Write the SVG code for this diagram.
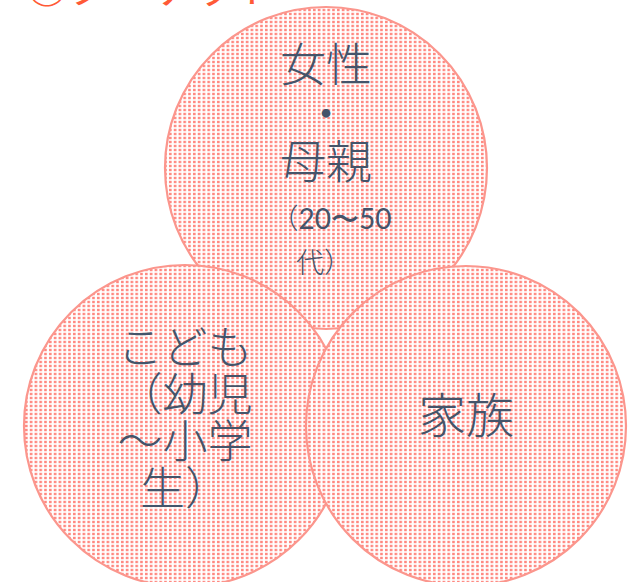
<svg xmlns="http://www.w3.org/2000/svg" width="635" height="582" viewBox="0 0 635 582">
  <defs>
    <pattern id="dots" patternUnits="userSpaceOnUse" width="4.8" height="4">
      <rect x="0" y="0" width="4.8" height="4" fill="#ffffff"/>
      <rect x="1" y="0.8" width="2.6" height="2.4" fill="#ff867e"/>
    </pattern>
    <style>
      .c { fill: url(#dots); stroke: #fb968d; stroke-width: 2.2; }
      .t { font-family: "Noto Sans CJK JP", "Noto Sans", sans-serif; font-weight: 300; fill: #44546a; text-anchor: middle; }
      .num { font-family: Lato, "Open Sans", sans-serif; font-weight: 400; }
      .title { font-family: "Noto Sans CJK JP", "Noto Sans", sans-serif; fill: #ff5a36; font-size: 42px; }
    </style>
  </defs>
  <rect width="635" height="582" fill="#ffffff"/>
  <text class="title" x="26" y="3">◎ターゲット</text>
  <g id="node-women">
    <circle class="c" cx="326" cy="168" r="161"/>
    <text class="t" font-size="46" x="326" y="80.5">女性</text>
    <text class="t" font-size="46" x="326" y="129.5">・</text>
    <text class="t" font-size="46" x="326" y="177.5">母親</text>
    <text class="t" font-size="28" x="331" y="228.5">（<tspan class="num">20〜50</tspan></text>
    <text class="t" font-size="28" x="324" y="273">代）</text>
  </g>
  <g id="node-children">
    <circle class="c" cx="185" cy="426" r="161"/>
    <text class="t" font-size="45" x="185" y="364">こども</text>
    <text class="t" font-size="45" x="185" y="411">（幼児</text>
    <text class="t" font-size="45" x="185" y="458">〜小学</text>
    <text class="t" font-size="45" x="185" y="505">生）</text>
  </g>
  <g id="node-family">
    <circle class="c" cx="466" cy="426" r="160"/>
    <text class="t" font-size="48" x="466" y="433">家族</text>
  </g>
  <g id="connectors"></g>
</svg>
